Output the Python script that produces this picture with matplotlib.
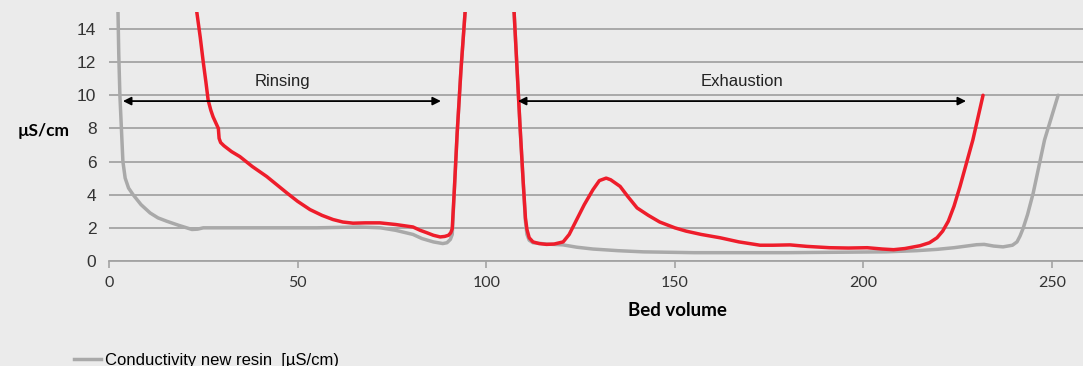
import matplotlib.pyplot as plt
from matplotlib.lines import Line2D

plt.rcParams['font.family'] = ['Liberation Sans', 'DejaVu Sans']

# new resin conductivity (grey)
new_bv = [2.2, 2.4, 2.6, 2.9, 3.3, 3.7, 4.3, 5.2, 6.4, 8.5, 10.9, 13, 15.3, 18.5, 22, 23.5,
          25, 40, 55, 66.5, 72, 76, 80.6, 83, 86, 88.5, 89.6, 90.5, 91,
          91.6, 92.3, 93.3, 94.4, 95, 106.8, 107.4, 108.2, 109, 109.8, 110.4, 110.8,
          111.4, 112.4, 116, 120.4, 124, 128.3, 135, 141.6, 155, 180, 206, 214, 219.5,
          224, 228, 230, 232, 234.5, 237, 239.5, 240.7, 241.5, 242.3, 243.5, 245,
          246.5, 248, 251.6]
new_cond = [16, 15, 12.5, 10, 8, 6, 5, 4.4, 4.0, 3.4, 2.9, 2.6, 2.4, 2.15, 1.9, 1.92,
            2.0, 2.0, 2.0, 2.05, 2.0, 1.85, 1.6, 1.35, 1.15, 1.05, 1.1, 1.3, 1.6,
            4.5, 7.7, 11.5, 15, 17, 17, 15, 11.5, 8, 4.8, 2.4, 1.6,
            1.25, 1.1, 1.02, 0.97, 0.83, 0.72, 0.62, 0.55, 0.5, 0.5, 0.55, 0.62, 0.7,
            0.8, 0.92, 0.98, 1.0, 0.9, 0.85, 0.95, 1.15, 1.5, 1.95, 2.8, 4.1,
            5.7, 7.3, 10.0]

# used resin conductivity (red)
used_bv = [22.8, 23.3, 24.2, 25, 25.7, 26.3, 27, 27.6, 28.6, 29, 29.2, 29.6, 30.5, 32.5,
           34.7, 38, 41.8, 44.5, 47.2, 50, 53.3, 56.5, 59.4, 62, 64.7, 68, 71.8, 76,
           80.6, 82.5, 84.3, 86, 87.8, 89, 90, 90.6, 91, 91.6, 92.3, 93.3, 94.4, 95,
           106.8, 107.4, 108.2, 109, 109.8, 110.4, 110.8, 111.4, 112.4, 114, 116, 118,
           120.4, 122, 124, 126, 128.3, 130, 131.8, 133, 135.5, 137.5, 140, 143, 146,
           150, 153, 157, 162, 167, 172.6, 176, 180.5, 185, 191, 196, 201, 205, 208,
           211, 215, 217.5, 219.5, 221, 222.5, 224, 225.6, 227.3, 229, 231.7]
used_cond = [17, 15, 13.5, 12, 10.8, 9.7, 9.1, 8.7, 8.2, 8.0, 7.4, 7.15, 6.95, 6.6,
             6.3, 5.7, 5.1, 4.6, 4.1, 3.6, 3.1, 2.75, 2.5, 2.35, 2.28, 2.3, 2.3, 2.2,
             2.05, 1.85, 1.7, 1.55, 1.45, 1.48, 1.55, 1.7, 1.95, 4.5, 7.7, 11.5, 15, 17,
             17, 15, 11.5, 8, 4.8, 2.6, 1.9, 1.4, 1.15, 1.05, 1.0, 1.02,
             1.15, 1.6, 2.5, 3.4, 4.3, 4.85, 5.0, 4.9, 4.5, 3.9, 3.2, 2.75, 2.35,
             2.0, 1.8, 1.6, 1.4, 1.15, 0.95, 0.95, 0.97, 0.88, 0.8, 0.78, 0.8, 0.72, 0.68,
             0.75, 0.92, 1.1, 1.4, 1.8, 2.4, 3.3, 4.5, 5.9, 7.3, 10.0]

phases = ['Rinsing', 'Exhaustion']
phase_start = [3.7, 108.4]
phase_end = [88.0, 227.2]
phase_label_x = [45.9, 167.8]

bg = '#ebebeb'
fig = plt.figure(figsize=(10.83, 3.66), dpi=100, facecolor=bg)
ax = fig.add_axes([0.1006, 0.287, 0.8994, 0.679])
ax.set_facecolor(bg)

ax.plot(new_bv, new_cond, color='#a9a9a9', lw=2.5, solid_capstyle='round',
        solid_joinstyle='round', zorder=3)
ax.plot(used_bv, used_cond, color='#ee1d2b', lw=2.5, solid_capstyle='round',
        solid_joinstyle='round', zorder=4)

for name, x0, x1, xt in zip(phases, phase_start, phase_end, phase_label_x):
    ax.annotate('', xy=(x0, 9.65), xytext=(x1, 9.65),
                arrowprops=dict(arrowstyle='<|-|>', color='black', lw=1.3,
                                mutation_scale=12, shrinkA=0, shrinkB=0), zorder=5)
    ax.text(xt, 10.85, name, ha='center', va='center', fontsize=12, color='#222222')

ax.set_xlim(0, 258.2)
ax.set_ylim(0, 15)
ax.set_xticks(range(0, 251, 50))
ax.set_yticks(range(0, 15, 2))
ax.yaxis.grid(True, color='#a3a3a3', lw=1.3)
ax.set_axisbelow(True)
for s in ['top', 'right', 'left']:
    ax.spines[s].set_visible(False)
ax.spines['bottom'].set_color('#a3a3a3')
ax.spines['bottom'].set_linewidth(1.3)
ax.tick_params(axis='x', colors='#a3a3a3', labelcolor='#333333', length=5, width=1.2,
               labelsize=11.5, pad=6)
ax.tick_params(axis='y', length=0, labelcolor='#333333', labelsize=12.5, pad=9)
for lbl in ax.get_xticklabels():
    lbl.set_family(['Lato', 'DejaVu Sans'])

ax.set_xlabel('Bed volume', fontsize=13.5, fontweight='bold',
              family=['Lato', 'DejaVu Sans'])
ax.xaxis.set_label_coords(0.584, -0.165)
ax.set_ylabel('µS/cm', fontsize=12.5, fontweight='bold', rotation=0,
              family=['Lato', 'DejaVu Sans'])
ax.yaxis.set_label_coords(-0.067, 0.49)

handle = Line2D([], [], color='#a9a9a9', lw=2.5)
fig.legend([handle], ['Conductivity new resin  [µS/cm)'], loc='upper left',
           bbox_to_anchor=(0.0623, 0.055), frameon=False, fontsize=12,
           handlelength=1.6, handletextpad=0.25, borderaxespad=0)

fig.savefig('out.png', dpi=100, facecolor=bg)
